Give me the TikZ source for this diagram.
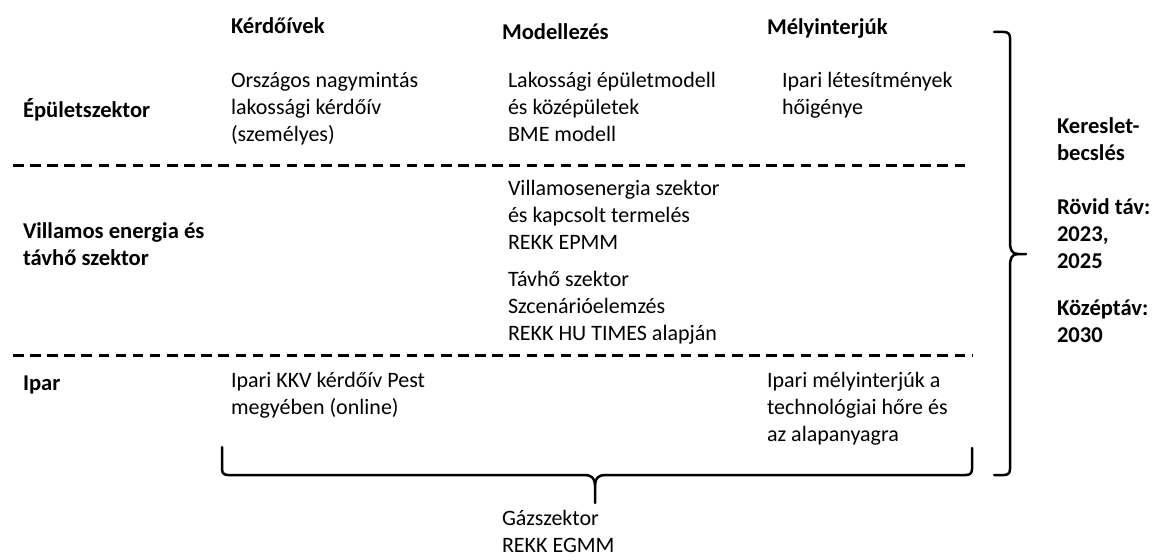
\documentclass[tikz,border=0pt]{standalone}
\usepackage{fontspec}
\setmainfont{Carlito}
\begin{document}
\begin{tikzpicture}[x=1pt,y=-1pt,
  txt/.style={anchor=north west, inner sep=0pt, outer sep=0pt, align=left,
    font=\fontsize{22}{27}\selectfont, execute at begin node=\strut},
  hd/.style={txt, font=\fontsize{22.6}{27}\selectfont\bfseries},
  sepline/.style={line width=3pt, dash pattern=on 10.5pt off 6.62pt},
  bracestyle/.style={line width=2.5pt, line join=round, line cap=round}]
\useasboundingbox (0,0) rectangle (1155,559);

% column headers
\node[hd] (hq) at (231,15.1) {Kérdőívek};
\node[hd] (hm) at (502,21.1) {Modellezés};
\node[hd] (hi) at (767,16.1) {Mélyinterjúk};

% row labels
\node[hd] (r1) at (23,98.1) {Épületszektor};
\node[hd] (r2) at (23,223.1) {Villamos energia és\\távhő szektor};
\node[hd] (r3) at (23,371.1) {Ipar};

% row 1
\node[txt] (q1) at (231,72.1) {Országos nagymintás\\lakossági kérdőív\\(személyes)};
\node[txt] (m1) at (508,72.1) {Lakossági épületmodell\\és középületek\\BME modell};
\node[txt] (i1) at (782,72.1) {Ipari létesítmények\\hőigénye};

% row 2
\node[txt] (m2a) at (508,180.1) {Villamosenergia szektor\\és kapcsolt termelés\\REKK EPMM};
\node[txt] (m2b) at (508,271.1) {Távhő szektor\\Szcenárióelemzés\\REKK HU TIMES alapján};

% row 3
\node[txt] (q3) at (231,372.1) {Ipari KKV kérdőív Pest\\megyében (online)};
\node[txt] (i3) at (767,372.1) {Ipari mélyinterjúk a\\technológiai hőre és\\az alapanyagra};

% gas sector
\node[txt] (gas) at (502,510.1) {Gázszektor\\REKK EGMM};

% right side
\node[hd] (rs) at (1057,118.1) {Kereslet-\\becslés\\[27pt]Rövid táv:\\2023,\\2025\\[20pt]Középtáv:\\2030};

% separators
\coordinate (s1a) at (13,165);
\coordinate (s1b) at (965,165);
\coordinate (s2a) at (13,355);
\coordinate (s2b) at (972,355);
\draw[sepline] (s1a) -- (s1b);
\draw[sepline] (s2a) -- (s2b);

% right brace
\coordinate (rbt) at (994,32);
\coordinate (rbb) at (994,475);
\coordinate (rbtip) at (1026,254);
\draw[bracestyle] (rbt) -- (1004,32) .. controls (1008,32) and (1010,34) .. (1010,38)
  -- (1010,242) .. controls (1010,250) and (1012,254) .. (1018,254) -- (rbtip);
\draw[bracestyle] (rbb) -- (1004,475) .. controls (1008,475) and (1010,473) .. (1010,469)
  -- (1010,266) .. controls (1010,258) and (1012,254) .. (1018,254);

% bottom brace
\coordinate (bbl) at (222,447);
\coordinate (bbr) at (972,448);
\coordinate (bbtip) at (595,503);
\draw[bracestyle] (bbl) -- (222,469) .. controls (222,473) and (224,475) .. (228,475)
  -- (585,475) .. controls (591,475) and (595,478) .. (595,485) -- (bbtip);
\draw[bracestyle] (bbr) -- (972,469) .. controls (972,473) and (970,475) .. (966,475)
  -- (605,475) .. controls (599,475) and (595,478) .. (595,485);
\end{tikzpicture}
\end{document}
